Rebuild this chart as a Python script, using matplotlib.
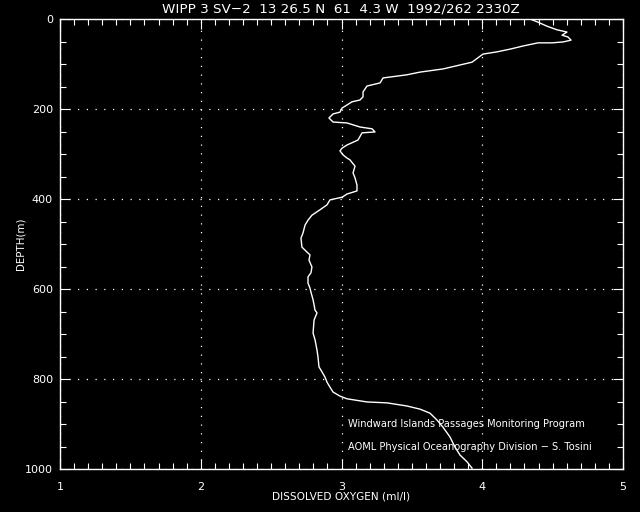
import matplotlib
matplotlib.use('Agg')
import matplotlib.pyplot as plt
from matplotlib.ticker import MultipleLocator

# profile: dissolved oxygen (ml/l) vs depth (m)
oxygen = [4.339, 4.396, 4.460, 4.531, 4.602, 4.567, 4.609, 4.631, 4.574, 4.496,
          4.396, 4.290, 4.197, 4.105, 4.005, 3.927, 3.721, 3.558, 3.465, 3.295,
          3.274, 3.181, 3.153, 3.153, 3.131, 3.075, 3.039, 3.004, 2.989, 2.940,
          2.911, 2.940, 3.039, 3.131, 3.217, 3.238, 3.146, 3.117, 3.039, 3.004,
          2.989, 3.011, 3.039, 3.060, 3.096, 3.082, 3.096, 3.110, 3.110, 3.039,
          3.004, 2.918, 2.897, 2.847, 2.790, 2.762, 2.741, 2.726, 2.712, 2.719,
          2.755, 2.776, 2.769, 2.790, 2.783, 2.762, 2.762, 2.776, 2.783, 2.798,
          2.812, 2.826, 2.805, 2.798, 2.812, 2.826, 2.833, 2.840, 2.861, 2.883,
          2.897, 2.918, 2.940, 2.989, 3.039, 3.181, 3.323, 3.465, 3.558, 3.629,
          3.678, 3.721, 3.771, 3.806, 3.842, 3.892, 3.927]
depth = [0, 7, 16, 24, 29, 36, 40, 47, 51, 53,
         53, 60, 67, 73, 78, 96, 111, 118, 124, 131,
         142, 149, 162, 173, 180, 184, 191, 198, 207, 211,
         220, 229, 231, 240, 244, 251, 253, 269, 280, 287,
         293, 302, 309, 313, 327, 342, 353, 369, 382, 389,
         396, 402, 413, 424, 436, 447, 458, 476, 487, 507,
         518, 524, 536, 551, 564, 573, 587, 598, 607, 624,
         647, 653, 669, 698, 713, 736, 751, 773, 784, 796,
         807, 818, 829, 838, 844, 851, 853, 860, 867, 876,
         891, 907, 929, 951, 969, 984, 998]

title = 'WIPP 3 SV\u22122  13 26.5 N  61  4.3 W  1992/262 2330Z'
notes = ['Windward Islands Passages Monitoring Program',
         'AOML Physical Oceanography Division \u2212 S. Tosini']

fg = 'white'
fs = 8

fig = plt.figure(figsize=(6.4, 5.12), dpi=100, facecolor='black')
ax = fig.add_axes([60 / 640, 43 / 512, 563 / 640, 450 / 512], facecolor='black')

ax.plot(oxygen, depth, color=fg, linewidth=1.0)

ax.set_xlim(1, 5)
ax.set_ylim(1000, 0)
ax.xaxis.set_major_locator(MultipleLocator(1))
ax.xaxis.set_minor_locator(MultipleLocator(0.1))
ax.yaxis.set_major_locator(MultipleLocator(200))
ax.yaxis.set_minor_locator(MultipleLocator(50))

ax.tick_params(which='both', direction='in', top=True, right=True,
               colors=fg, labelsize=fs, width=0.8)
ax.tick_params(axis='x', which='major', length=7.2, pad=9)
ax.tick_params(axis='y', which='major', length=7.2, pad=5)
ax.tick_params(which='minor', length=4.3)
for s in ax.spines.values():
    s.set_color(fg)
    s.set_linewidth(1.0)

ax.grid(True, which='major', color=fg, linestyle=(0, (1, 6)), linewidth=0.9)

ax.set_xlabel('DISSOLVED OXYGEN (ml/l)', color=fg, fontsize=7.6, labelpad=0)
ax.set_ylabel('DEPTH(m)', color=fg, fontsize=7.4)
ax.yaxis.set_label_coords(-0.062, 0.5)
fig.text(341 / 640, 1 - 9 / 512, title, color=fg, fontsize=9.7,
         ha='center', va='center')

for i, note in enumerate(notes):
    ax.text(0.511, 0.1 - i * 0.05, note, transform=ax.transAxes, color=fg,
            fontsize=7.1, ha='left', va='center')

fig.savefig('out.png', dpi=100, facecolor='black')
